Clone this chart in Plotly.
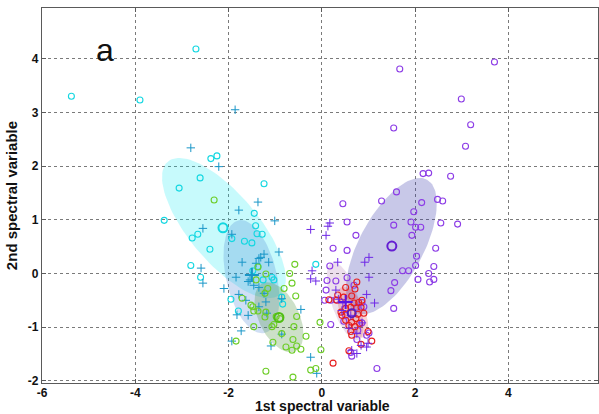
import numpy as np
import plotly.graph_objects as go

# ---------------- data ----------------
cyan_x = [-5.37, -3.90, -2.70, -2.38, -2.25, -2.61, -3.06, -1.24, -3.38, -2.78, -2.66, -2.40, -2.81, -2.60,
          -1.93, -1.66, -1.50, -1.45, -1.42, -1.39, -1.28, -1.37, -1.48, -1.26, -1.07, -1.03, -1.95, -1.79,
          -0.86, -0.84, -0.13]
cyan_y = [3.30, 3.23, 4.18, 2.14, 2.19, 1.78, 1.59, 1.67, 0.99, 0.66, 0.73, 0.45, 0.15, -0.07,
          0.65, 0.60, 0.57, 1.12, 0.89, 0.74, 0.73, 0.13, 0.05, -0.12, -0.07, -0.12, -0.48, -0.70,
          -0.44, -0.57, 0.17]
cyan_mean = (-2.12, 0.85)

teal_x = [-2.81, -2.21, -1.86, -1.37, -1.78, -2.55, -1.01, -1.93, -0.92, -1.71, -1.24, -1.35, -1.14, -1.41,
          -1.31, -1.54, -1.58, -1.84, -2.59, -2.55, -2.10, -1.35, -1.46, -1.24, -1.78, -1.63, -1.20, -0.86,
          -1.35, -1.18, -1.82, -1.58, -1.73, -1.93, -0.86, -1.09, -0.45, -0.24, -0.11]
teal_y = [2.34, 1.99, 3.05, 1.33, 1.18, 0.84, 0.98, 0.73, 0.40, 0.21, 0.36, 0.28, 0.21, 0.19,
          0.30, -0.12, -0.15, -0.07, 0.10, -0.18, -0.28, -0.26, -0.22, -0.37, -0.39, -0.50, -0.53, -0.47,
          -0.62, -0.74, -0.77, -0.78, -1.07, -1.26, -1.13, -1.35, -0.67, -1.56, -1.86]
teal_mean = (-1.50, -0.03)

green_x = [-2.31, -0.58, -0.69, -0.64, -0.81, -0.56, -1.16, -1.22, -1.41, -1.20, -1.37, -1.71, -1.52, -1.48,
           -1.37, -1.46, -1.22, -1.20, -1.03, -1.07, -1.46, -1.84, -1.05, -0.77, -0.64, -0.54, -0.62, -0.60,
           -0.54, -0.86, -1.20, -0.62, -0.34, -0.45, -0.04, -0.02, -0.13, -0.24, -0.98, -0.90]
green_y = [1.37, 0.17, 0.00, -0.18, -0.28, -0.42, -0.28, -0.37, -0.12, -0.01, 0.12, -0.46, -0.59, -0.62,
           -0.70, -0.70, -0.81, -0.72, -0.95, -0.99, -0.99, -1.26, -1.28, -1.37, -1.43, -1.35, -1.23, -0.99,
           -0.80, -1.12, -1.82, -1.93, -1.17, -1.41, -0.91, -1.42, -1.77, -1.80, -0.80, -0.84]
green_mean = (-0.92, -0.82)

purple_x = [1.67, 3.70, 2.99, 1.54, 3.19, 3.08, 2.17, 2.29, 2.76, 1.60, 1.28, 0.45, 2.14, 2.48, 2.59,
            1.97, 0.54, 1.54, 1.91, 2.01, 2.12, 2.55, 2.91, 1.93, 0.73, 0.24, 0.54, 2.44, 2.03, 0.17,
            2.01, 2.40, 1.73, 1.86, 2.29, 2.06, 2.31, 2.40, 1.56, 1.48, 1.54, 0.11, 0.30, 0.54, 0.09,
            0.06, 0.19, 0.30, 0.69, 0.90, 0.75, 0.86, 0.47, 0.19, 0.86, 0.77, 0.75, 0.62, 0.64, 1.01,
            0.96, 1.18, 0.51]
purple_y = [3.81, 3.94, 3.25, 2.71, 2.77, 2.37, 1.86, 1.87, 1.81, 1.52, 1.35, 1.30, 1.32, 1.38, 1.35,
            1.15, 0.96, 0.90, 0.96, 0.86, 0.86, 0.94, 0.92, 0.71, 0.71, 0.47, 0.43, 0.47, 0.32, 0.14,
            0.15, 0.13, 0.05, 0.05, 0.00, -0.11, -0.16, -0.11, -0.17, -0.32, -0.65, -0.13, -0.14, -0.08, -0.31,
            -0.50, -0.50, -0.49, -0.22, -0.62, -0.63, -0.54, -0.89, -0.95, -0.92, -1.06, -1.23, -1.47, -1.54, -1.11,
            -1.15, -1.77, -0.78]
purple_mean = (1.50, 0.51)

vplus_x = [-0.24, 0.17, 0.13, 0.09, 0.34, -0.21, -0.24, -0.13, 1.01, 0.92, 1.01, 0.96, 1.13, 0.30,
           0.58, 0.75, 0.84, 0.96, 0.99, 0.75, 0.64, 0.43, 0.62, 0.45, 0.86, 0.36]
vplus_y = [0.82, 0.94, 0.88, 0.71, 0.21, 0.05, -0.10, -0.14, 0.30, 0.21, -0.07, -0.39, -0.55, -0.31,
           -1.02, -1.12, -1.34, -1.37, -1.30, -1.49, -1.43, -0.69, -0.78, -0.55, -0.92, -0.48]
vplus_mean = (0.51, -0.53)

red_x = [0.75, 0.71, 0.64, 0.34, 0.47, 0.15, 0.32, 0.41, 0.51, 0.62, 0.79, 0.86, 0.84, 0.90, 0.43, 0.73,
         0.51, 0.64, 0.81, 0.58, 0.71, 0.62, 0.64, 0.99, 1.07, 0.84, 0.58, 0.24, 0.51, 0.77, 0.69]
red_y = [-0.16, -0.29, -0.42, -0.40, -0.44, -0.49, -0.50, -0.72, -0.65, -0.63, -0.54, -0.50, -0.63, -0.74,
         -0.78, -0.84, -0.87, -0.91, -0.93, -0.97, -0.99, -1.08, -1.15, -1.08, -1.26, -1.32, -1.44, -1.67,
         -0.26, -0.76, -0.55]
red_mean = (0.64, -0.74)

# ellipses: centre and two conjugate semi-axis vectors (data units)
ell_names = ["cyan", "teal", "green", "purple", "mauve", "red"]
ell_cx = [-2.10, -1.51, -0.92, 1.49, 0.50, 0.66]
ell_cy = [0.845, -0.06, -0.815, 0.51, -0.52, -0.72]
ell_ux = [1.203, 0.281, 0.353, 0.764, 0.279, 0.236]
ell_uy = [-1.239, -1.049, -0.632, 1.237, -0.724, -0.466]
ell_vx = [0.561, 0.529, 0.388, 0.604, 0.280, 0.236]
ell_vy = [0.414, 0.108, 0.164, -0.284, 0.082, 0.093]
ell_fill = ["rgba(0,230,240,0.22)", "rgba(60,120,210,0.24)", "rgba(70,140,50,0.27)",
            "rgba(50,50,170,0.27)", "rgba(140,60,140,0.17)", "rgba(230,40,40,0.20)"]

x_ticks = [-6, -4, -2, 0, 2, 4]
y_ticks = [-2, -1, 0, 1, 2, 3, 4]

# ---------------- figure ----------------
fig = go.Figure()
t = np.linspace(0, 2 * np.pi, 120)
for i in range(len(ell_names)):
    ex = ell_cx[i] + ell_ux[i] * np.cos(t) + ell_vx[i] * np.sin(t)
    ey = ell_cy[i] + ell_uy[i] * np.cos(t) + ell_vy[i] * np.sin(t)
    fig.add_trace(go.Scatter(x=ex, y=ey, mode="lines", fill="toself", fillcolor=ell_fill[i],
                             line=dict(width=0), hoverinfo="skip", showlegend=False))

def pts(x, y, color, symbol, size, width):
    fig.add_trace(go.Scatter(x=x, y=y, mode="markers", showlegend=False,
                             marker=dict(symbol=symbol, size=size, color=color,
                                         line=dict(color=color, width=width))))

C_CYAN = "rgb(20,215,225)"
C_TEAL = "rgb(25,150,200)"
C_GREEN = "rgb(110,205,40)"
C_PURP = "rgb(140,60,230)"
C_VPLUS = "rgb(110,40,230)"
C_RED = "rgb(230,30,30)"

pts(cyan_x, cyan_y, C_CYAN, "circle-open", 6, 1.1)
pts(teal_x, teal_y, C_TEAL, "cross-thin-open", 6, 1.0)
pts(green_x, green_y, C_GREEN, "circle-open", 6, 1.1)
pts(purple_x, purple_y, C_PURP, "circle-open", 6, 1.1)
pts(red_x, red_y, C_RED, "circle-open", 6, 1.1)
pts(vplus_x, vplus_y, C_VPLUS, "cross-thin-open", 6, 1.0)

pts([cyan_mean[0]], [cyan_mean[1]], C_CYAN, "circle-open", 9, 2)
pts([teal_mean[0]], [teal_mean[1]], C_TEAL, "cross-thin-open", 10, 2)
pts([green_mean[0]], [green_mean[1]], "rgb(80,190,20)", "circle-open", 9, 2)
pts([purple_mean[0]], [purple_mean[1]], "rgb(100,30,210)", "circle-open", 9, 2)
pts([vplus_mean[0]], [vplus_mean[1]], "rgb(90,20,230)", "cross-thin-open", 10, 2)
pts([red_mean[0]], [red_mean[1]], "rgb(90,30,190)", "circle-open", 8, 2)

FONT = "Liberation Sans, Arial, sans-serif"
axis_common = dict(showgrid=True, gridcolor="#7a7a7a", griddash="dot", gridwidth=1,
                   zeroline=False, showline=True, linecolor="#5a5a5a", linewidth=1.2, mirror="ticks",
                   ticks="inside", ticklen=4, tickcolor="#5a5a5a",
                   tickfont=dict(family=FONT, size=12, color="#111", weight="bold"))

fig.update_xaxes(range=[-6, 5.92], tickvals=x_ticks, ticktext=[str(v) for v in x_ticks],
                 ticklabelstandoff=-2, automargin=False, **axis_common)
fig.update_yaxes(range=[-2.04, 4.945], tickvals=y_ticks, ticktext=[str(v) for v in y_ticks],
                 title=dict(text="2nd spectral variable", standoff=6,
                            font=dict(family=FONT, size=15, color="#111", weight="bold")),
                 automargin=False, **axis_common)

# x-axis title placed as paper text so it sits as low as in the reference
fig.add_annotation(x=0.505, y=-0.0613, xref="paper", yref="paper", text="1st spectral variable",
                   showarrow=False, xanchor="center", yanchor="middle",
                   font=dict(family=FONT, size=14, color="#111", weight="bold"))

fig.add_annotation(x=-4.65, y=4.17, xref="x", yref="y", text="a", showarrow=False,
                   font=dict(family=FONT, size=32, color="#111"), xanchor="center", yanchor="middle")

fig.update_layout(width=599, height=414, margin=dict(l=42, r=1, t=8, b=31),
                  plot_bgcolor="white", paper_bgcolor="white", showlegend=False)

fig.write_html("out.html")
